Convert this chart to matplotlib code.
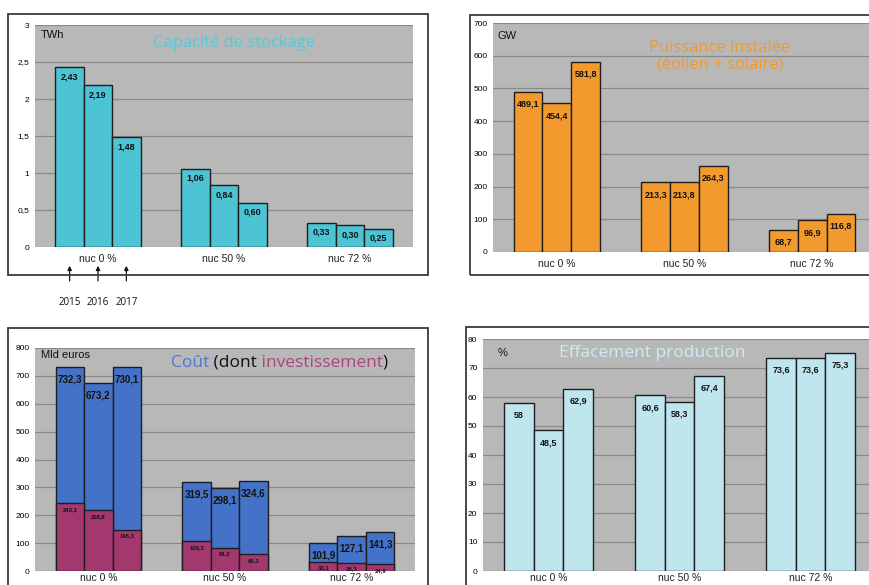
import numpy as np
import matplotlib.pyplot as plt
from matplotlib.patches import Rectangle

# Scenarios (nuclear share) and weather years
scenarios = ["nuc 0 %", "nuc 50 %", "nuc 72 %"]
years = ["2015", "2016", "2017"]

# Storage capacity (TWh), rows = scenario, cols = year
stockage = [[2.43, 2.19, 1.48], [1.06, 0.84, 0.60], [0.33, 0.30, 0.25]]
# Installed wind + solar power (GW)
puissance = [[489.1, 454.4, 581.8], [213.3, 213.8, 264.3], [68.7, 96.9, 116.8]]
# Total cost and investment part (billion euros)
cout = [[732.3, 673.2, 730.1], [319.5, 298.1, 324.6], [101.9, 127.1, 141.3]]
invest = [[243.1, 218.8, 148.3], [106.2, 84.2, 60.3], [33.1, 30.3, 24.9]]
# Curtailed production (%)
effacement = [[58, 48.5, 62.9], [60.6, 58.3, 67.4], [73.6, 73.6, 75.3]]

BG = "#b8b8b8"
GRID = "#8a8a8a"
EDGE = "#1e1e1e"
NUM_FONT = "Liberation Sans"
TITLE_FONT = "Open Sans"
W = 0.225
offsets = np.array([-W, 0, W])


def fr(v, nd):
    s = f"{v:.{nd}f}" if nd is not None else f"{v:g}"
    return s.replace(".", ",")


def setup(ax, ymax, step, fmt, xpad=5):
    ax.set_facecolor(BG)
    ax.set_xlim(-0.5, 2.5)
    ax.set_ylim(0, ymax)
    ticks = np.arange(0, ymax + step / 2, step)
    ax.set_yticks(ticks)
    ax.set_yticklabels([fmt(t) for t in ticks], fontsize=6, family=NUM_FONT)
    ax.yaxis.grid(True, color=GRID, lw=0.9)
    ax.set_axisbelow(True)
    ax.set_xticks(range(3))
    ax.set_xticklabels(scenarios, fontsize=7.5, family=NUM_FONT, color="#222")
    ax.tick_params(length=0, pad=4)
    ax.tick_params(axis="x", pad=xpad)
    for s in ax.spines.values():
        s.set_visible(False)


def bars(ax, data, color, labels_nd, dy=-8, fs=6.5):
    x = np.arange(3)
    for j in range(3):
        vals = [row[j] for row in data]
        ax.bar(x + offsets[j], vals, W, color=color, edgecolor=EDGE, lw=1, zorder=3)
        for i, v in enumerate(vals):
            ax.annotate(fr(v, labels_nd), (x[i] + offsets[j], v), xytext=(0, dy),
                        textcoords="offset points", ha="center", va="center",
                        fontsize=fs, fontweight="bold", family=NUM_FONT,
                        color="#111", zorder=4)


def frame(fig, x0, y0, x1, y1):
    W_, H_ = 869, 585
    fig.add_artist(Rectangle((x0 / W_, 1 - y1 / H_), (x1 - x0) / W_, (y1 - y0) / H_,
                             transform=fig.transFigure, fill=False,
                             edgecolor="#3a3a3a", lw=1.3))


fig = plt.figure(figsize=(8.69, 5.85), dpi=100)

# Storage capacity
ax1 = fig.add_axes([35 / 869, 1 - 247 / 585, 378 / 869, 222 / 585])
setup(ax1, 3, 0.5, lambda t: fr(t, 1) if t % 1 else f"{t:.0f}")
bars(ax1, stockage, "#4cc4d3", 2, dy=-7)
ax1.text(0.015, 0.955, "TWh", transform=ax1.transAxes, fontsize=8, family=NUM_FONT,
         va="center", color="#111")
ax1.text(0.526, 0.919, "Capacité de stockage", transform=ax1.transAxes, fontsize=12,
         family=TITLE_FONT, color="#55cad8", ha="center", va="center")
xform = ax1.get_xaxis_transform()
for j, yr in enumerate(years):
    ax1.annotate("", xy=(offsets[j], -0.072), xytext=(offsets[j], -0.165),
                 xycoords=xform, textcoords=xform,
                 arrowprops=dict(arrowstyle="-|>", color="#111", lw=0.9, mutation_scale=6),
                 annotation_clip=False)
    ax1.text(offsets[j], -0.25, yr, transform=xform, ha="center", va="center",
             fontsize=7, family=TITLE_FONT, color="#111")
frame(fig, 8, 14, 428, 275)

# Installed power
ax2 = fig.add_axes([493 / 869, 1 - 252 / 585, 383 / 869, 229 / 585])
setup(ax2, 700, 100, lambda t: f"{t:.0f}")
bars(ax2, puissance, "#f39a2e", 1, dy=-9, fs=6.5)
ax2.text(0.013, 0.943, "GW", transform=ax2.transAxes, fontsize=8, family=NUM_FONT,
         va="center", color="#111")
ax2.text(0.593, 0.856, "Puissance instalée\n(éolien + solaire)", transform=ax2.transAxes,
         fontsize=12, family=TITLE_FONT, color="#f39a2e", ha="center", va="center",
         linespacing=1.05)
frame(fig, 470, 15, 900, 275)

# Cost and investment
ax3 = fig.add_axes([35 / 869, 1 - 571 / 585, 380 / 869, 223 / 585])
setup(ax3, 800, 100, lambda t: f"{t:.0f}", xpad=1.5)
bars(ax3, cout, "#4472c8", 1, dy=-9, fs=7)
bars(ax3, invest, "#a3386f", 1, dy=-4.5, fs=4.2)
ax3.text(0.016, 0.969, "Mld euros", transform=ax3.transAxes, fontsize=8,
         family=NUM_FONT, va="center", color="#111")
prev = ax3.text(0.357, 0.933, "Coût", transform=ax3.transAxes, fontsize=12.5,
                family=TITLE_FONT, color="#4a78d0", va="center")
for piece, col in [(" (dont", "#111"), (" investissement", "#a8477a"), (")", "#111")]:
    prev = ax3.annotate(piece, xy=(1, 0), xycoords=prev, va="bottom", ha="left",
                        fontsize=12.5, family=TITLE_FONT, color=col)
frame(fig, 8, 328, 428, 600)

# Curtailed production
ax4 = fig.add_axes([483 / 869, 1 - 571 / 585, 393 / 869, 232 / 585])
setup(ax4, 80, 10, lambda t: f"{t:.0f}", xpad=1.5)
bars(ax4, effacement, "#bfe5ee", None, dy=-9, fs=6.5)
ax4.text(0.038, 0.94, "%", transform=ax4.transAxes, fontsize=8, family=NUM_FONT,
         va="center", color="#111")
ax4.text(0.43, 0.94, "Effacement production", transform=ax4.transAxes, fontsize=12.5,
         family=TITLE_FONT, color="#cfeaf2", ha="center", va="center")
frame(fig, 466, 327, 900, 600)

fig.savefig("out.png", dpi=100)
